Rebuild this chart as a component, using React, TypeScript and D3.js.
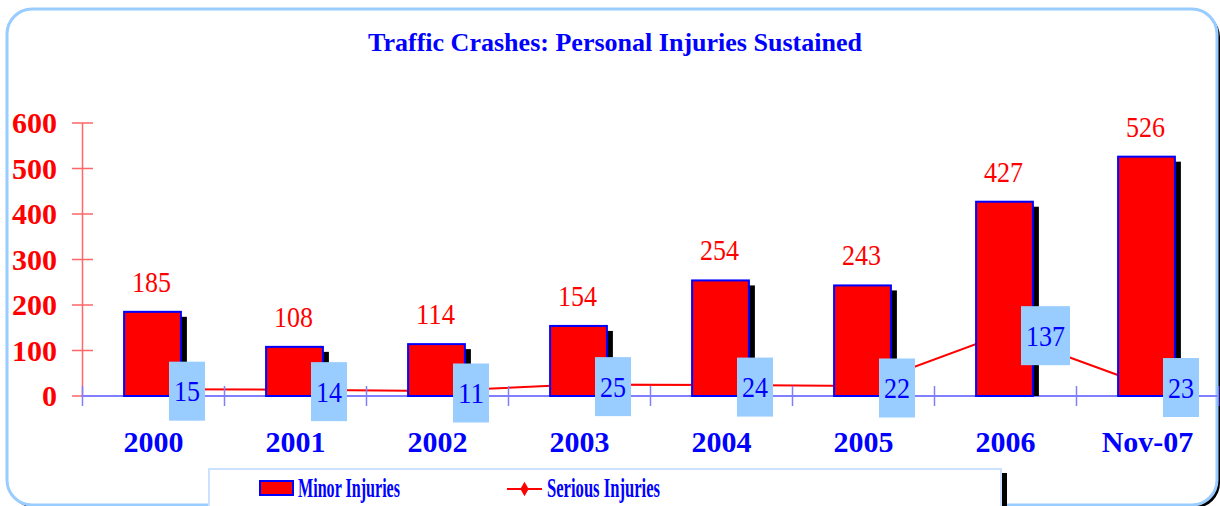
import React, { useEffect, useRef } from 'react';
import * as d3 from 'd3';

const categories = ['2000', '2001', '2002', '2003', '2004', '2005', '2006', 'Nov-07'];
const minorInjuries = [185, 108, 114, 154, 254, 243, 427, 526];
const seriousInjuries = [15, 14, 11, 25, 24, 22, 137, 23];
const yTicks = [0, 100, 200, 300, 400, 500, 600];

const W = 1220;
const H = 506;
const FONT = "'Liberation Serif', 'Times New Roman', serif";

export default function App() {
  const svgRef = useRef<SVGSVGElement>(null);

  useEffect(() => {
    if (!svgRef.current) return;
    const svg = d3.select(svgRef.current);
    svg.selectAll('*').remove();

    const x = d3.scaleBand<string>().domain(categories).range([81.5, 1217.5]).padding(0);
    const y = d3.scaleLinear().domain([0, 600]).range([396, 123]);
    const step = x.bandwidth();
    const barW = step * 0.4;
    const cx = (c: string) => (x(c) as number) + step / 2;

    // outer frame with shadow
    svg.append('rect')
      .attr('x', 10).attr('y', 12).attr('width', 1210).attr('height', 496)
      .attr('rx', 25).attr('fill', '#000');
    svg.append('rect')
      .attr('x', 7).attr('y', 9).attr('width', 1210).attr('height', 496)
      .attr('rx', 25).attr('fill', '#fff')
      .attr('stroke', '#99ccff').attr('stroke-width', 3);

    // title
    svg.append('text')
      .attr('x', 615).attr('y', 51)
      .attr('text-anchor', 'middle')
      .attr('font-family', FONT).attr('font-weight', 'bold').attr('font-size', 26)
      .attr('fill', '#0000ff')
      .attr('textLength', 494).attr('lengthAdjust', 'spacingAndGlyphs')
      .text('Traffic Crashes: Personal Injuries Sustained');

    // y axis
    const yAxis = svg.append('g');
    yAxis.append('line')
      .attr('x1', 82.5).attr('x2', 82.5).attr('y1', y(600)).attr('y2', y(0))
      .attr('stroke', '#ff6666').attr('stroke-width', 1.5);
    yAxis.selectAll('line.tick').data(yTicks).join('line')
      .attr('class', 'tick')
      .attr('x1', 72).attr('x2', 93)
      .attr('y1', d => y(d)).attr('y2', d => y(d))
      .attr('stroke', '#ff6666').attr('stroke-width', 1.5);
    yAxis.selectAll('text').data(yTicks).join('text')
      .attr('x', 57).attr('y', d => y(d) + 10)
      .attr('text-anchor', 'end')
      .attr('font-family', FONT).attr('font-weight', 'bold').attr('font-size', 30)
      .attr('fill', '#ff0000')
      .text(d => d);

    // serious injuries line (behind bars)
    const line = d3.line<number>()
      .x((_, i) => cx(categories[i]))
      .y(d => y(d));
    svg.append('path')
      .datum(seriousInjuries)
      .attr('fill', 'none')
      .attr('stroke', '#ff0000').attr('stroke-width', 2)
      .attr('d', line);
    svg.selectAll('path.marker').data(seriousInjuries).join('path')
      .attr('class', 'marker')
      .attr('d', d3.symbol(d3.symbolDiamond, 40)())
      .attr('transform', (d, i) => `translate(${cx(categories[i])},${y(d)})`)
      .attr('fill', '#ff0000');

    // x axis
    const boundaries = categories.map(c => x(c) as number).concat([x.range()[1]]);
    svg.append('line')
      .attr('x1', 81.5).attr('x2', 1217.5).attr('y1', 396).attr('y2', 396)
      .attr('stroke', '#7f7fff').attr('stroke-width', 2);
    svg.selectAll('line.xtick').data(boundaries).join('line')
      .attr('class', 'xtick')
      .attr('x1', d => d + 1).attr('x2', d => d + 1)
      .attr('y1', 386).attr('y2', 406)
      .attr('stroke', '#7f7fff').attr('stroke-width', 1.5);

    // bars
    const bars = svg.append('g');
    bars.selectAll('rect.shadow').data(minorInjuries).join('rect')
      .attr('class', 'shadow')
      .attr('x', (d, i) => cx(categories[i]) - barW / 2 + 6)
      .attr('y', d => y(d) + 5)
      .attr('width', barW)
      .attr('height', d => y(0) - y(d) - 5)
      .attr('fill', '#000');
    bars.selectAll('rect.bar').data(minorInjuries).join('rect')
      .attr('class', 'bar')
      .attr('x', (d, i) => cx(categories[i]) - barW / 2)
      .attr('y', d => y(d))
      .attr('width', barW)
      .attr('height', d => y(0) - y(d))
      .attr('fill', '#ff0000')
      .attr('stroke', '#0000ff').attr('stroke-width', 2);
    bars.selectAll('text').data(minorInjuries).join('text')
      .attr('x', (d, i) => cx(categories[i]) - 1)
      .attr('y', d => y(d) - 20)
      .attr('text-anchor', 'middle')
      .attr('font-family', FONT).attr('font-size', 30)
      .attr('fill', '#ff0000')
      .attr('textLength', d => String(d).length * 13)
      .attr('lengthAdjust', 'spacingAndGlyphs')
      .text(d => d);

    // serious labels
    const labels = svg.append('g');
    const lw = (d: number) => String(d).length * 13 + 10;
    labels.selectAll('rect').data(seriousInjuries).join('rect')
      .attr('x', (d, i) => cx(categories[i]) + 16.5)
      .attr('y', d => y(d) + 2 - 29.5)
      .attr('width', d => lw(d))
      .attr('height', 59)
      .attr('fill', '#99ccff');
    labels.selectAll('text').data(seriousInjuries).join('text')
      .attr('x', (d, i) => cx(categories[i]) + 16.5 + lw(d) / 2)
      .attr('y', d => y(d) + 2 + 10)
      .attr('text-anchor', 'middle')
      .attr('font-family', FONT).attr('font-size', 30)
      .attr('fill', '#0000ff')
      .attr('textLength', d => String(d).length * 13)
      .attr('lengthAdjust', 'spacingAndGlyphs')
      .text(d => d);

    // category labels
    svg.append('g').selectAll('text').data(categories).join('text')
      .attr('x', d => cx(d) + 1)
      .attr('y', 452)
      .attr('text-anchor', 'middle')
      .attr('font-family', FONT).attr('font-weight', 'bold').attr('font-size', 30)
      .attr('fill', '#0000ff')
      .text(d => d);

    // legend
    const lg = svg.append('g');
    lg.append('rect')
      .attr('x', 1001).attr('y', 473).attr('width', 6).attr('height', 40)
      .attr('fill', '#000');
    lg.append('rect')
      .attr('x', 209).attr('y', 469).attr('width', 792).attr('height', 45)
      .attr('fill', '#fff')
      .attr('stroke', '#cce0ff').attr('stroke-width', 2);
    lg.append('rect')
      .attr('x', 260).attr('y', 481).attr('width', 33).attr('height', 14)
      .attr('fill', '#ff0000')
      .attr('stroke', '#0000ff').attr('stroke-width', 2);
    lg.append('text')
      .attr('x', 298).attr('y', 497)
      .attr('font-family', FONT).attr('font-weight', 'bold').attr('font-size', 27)
      .attr('fill', '#0000ff')
      .attr('textLength', 102).attr('lengthAdjust', 'spacingAndGlyphs')
      .text('Minor Injuries');
    lg.append('line')
      .attr('x1', 507).attr('x2', 542).attr('y1', 489).attr('y2', 489)
      .attr('stroke', '#ff0000').attr('stroke-width', 2);
    lg.append('path')
      .attr('d', d3.symbol(d3.symbolDiamond, 60)())
      .attr('transform', 'translate(524.5,489)')
      .attr('fill', '#ff0000');
    lg.append('text')
      .attr('x', 547).attr('y', 497)
      .attr('font-family', FONT).attr('font-weight', 'bold').attr('font-size', 27)
      .attr('fill', '#0000ff')
      .attr('textLength', 113).attr('lengthAdjust', 'spacingAndGlyphs')
      .text('Serious Injuries');
  }, []);

  return (
    <div style={{ position: 'absolute', left: 0, top: 0 }}>
      <svg ref={svgRef} width={W} height={H} style={{ display: 'block' }} />
    </div>
  );
}
